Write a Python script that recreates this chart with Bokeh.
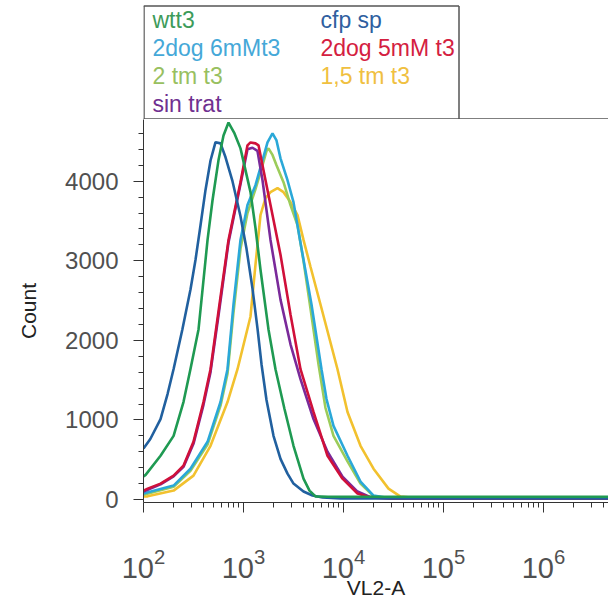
from bokeh.plotting import figure
from bokeh.models import Range1d, FixedTicker, ColumnDataSource
from bokeh.layouts import column
from bokeh.embed import file_html
from bokeh.resources import INLINE
from bokeh.core.properties import value

# ---------------- data ----------------
series_names = ["wtt3", "cfp sp", "2dog 6mMt3", "2dog 5mM t3", "2 tm t3", "1,5 tm t3", "sin trat"]
legend_colors = ["#3d9b5a", "#2f5f9f", "#45a8d8", "#d42040", "#98c060", "#f0c040", "#703090"]
line_colors = ["#1f9a52", "#21609f", "#2aa8d8", "#d0103a", "#9ccc5a", "#f2c12e", "#7a2a9a"]

y_ticks = [0, 1000, 2000, 3000, 4000]
x_ticks = [100, 1000, 10000, 100000, 1000000]

wtt3_x = [100, 105, 148, 200, 251, 295, 355, 437, 490, 562, 631, 708, 813, 933, 1175, 1318, 1479, 1778, 2089, 2570, 3162, 3981, 4571, 5248, 7000, 4600000]
wtt3_y = [290, 310, 550, 800, 1225, 1640, 2137, 3262, 3760, 4262, 4575, 4737, 4600, 4412, 3862, 3412, 2887, 2137, 1637, 1137, 675, 262, 112, 40, 35, 35]

cfp_x = [100, 117, 148, 174, 200, 245, 295, 331, 372, 417, 468, 525, 589, 661, 776, 933, 1072, 1230, 1380, 1514, 1698, 1995, 2344, 2754, 3162, 3981, 4898, 6166, 9333, 4600000]
cfp_y = [640, 760, 1010, 1325, 1640, 2140, 2640, 3010, 3450, 3890, 4260, 4490, 4475, 4300, 4000, 3560, 3150, 2650, 2150, 1700, 1250, 800, 510, 325, 200, 100, 50, 25, 12, 12]

dog6_x = [100, 200, 295, 437, 589, 692, 794, 933, 1096, 1318, 1549, 1738, 1950, 2138, 2344, 2754, 3162, 3715, 4786, 6026, 6761, 7943, 10965, 14791, 19953, 26303, 40000, 4600000]
dog6_y = [75, 175, 387, 725, 1225, 1637, 2450, 3262, 3700, 3950, 4262, 4487, 4600, 4512, 4287, 4012, 3737, 3225, 2450, 1637, 1262, 925, 550, 225, 50, 25, 12, 12]

dog5_x = [100, 110, 148, 200, 251, 316, 398, 468, 575, 708, 933, 1096, 1175, 1318, 1413, 1585, 1862, 2344, 2951, 3715, 5012, 6918, 9772, 13804, 18621, 30000, 4600000]
dog5_y = [112, 137, 200, 300, 425, 725, 1225, 1637, 2450, 3262, 3987, 4450, 4487, 4475, 4450, 4137, 3700, 3075, 2325, 1637, 1100, 550, 262, 75, 25, 12, 12]

tm2_x = [100, 200, 295, 437, 589, 692, 794, 933, 1096, 1318, 1549, 1700, 1778, 1950, 2138, 2512, 2951, 3467, 3981, 4677, 5623, 6607, 7943, 10965, 14791, 19953, 26303, 40000, 4600000]
tm2_y = [60, 160, 360, 690, 1180, 1580, 2350, 3150, 3600, 3900, 4200, 4380, 4412, 4330, 4200, 3987, 3700, 3450, 3000, 2400, 1700, 1150, 800, 480, 200, 45, 20, 12, 12]

tm15_x = [100, 110, 200, 316, 468, 692, 871, 1175, 1318, 1479, 1660, 1862, 2188, 2512, 2951, 3467, 3981, 4677, 5888, 8710, 10965, 14791, 19953, 28184, 37154, 60000, 4600000]
tm15_y = [37, 40, 112, 300, 675, 1225, 1637, 2300, 2950, 3575, 3787, 3862, 3912, 3862, 3737, 3575, 3262, 2925, 2450, 1637, 1100, 675, 387, 137, 37, 12, 12]

sin_x = [100, 148, 200, 251, 316, 398, 468, 575, 708, 933, 1096, 1230, 1380, 1549, 1862, 2344, 2951, 3715, 5012, 6918, 9772, 13804, 18621, 30000, 4600000]
sin_y = [100, 190, 290, 410, 700, 1190, 1600, 2400, 3230, 3960, 4400, 4420, 4380, 4012, 3262, 2512, 1950, 1512, 1012, 600, 287, 100, 30, 12, 12]

series_x = [wtt3_x, cfp_x, dog6_x, dog5_x, tm2_x, tm15_x, sin_x]
series_y = [wtt3_y, cfp_y, dog6_y, dog5_y, tm2_y, tm15_y, sin_y]

FONT = "Liberation Sans"
W = 608
LEFT = 143

# ---------------- legend box (above the plot) ----------------
leg = figure(width=W, height=119, x_range=Range1d(LEFT, W), y_range=Range1d(119, 0),
             output_backend="svg", toolbar_location=None,
             min_border_left=LEFT, min_border_right=0, min_border_top=0, min_border_bottom=0,
             x_axis_location=None, y_axis_location=None, outline_line_color=None)
leg.grid.visible = False
leg.multi_line(xs=[[143.5, 143.5], [143, 458.5], [458.5, 458.5], [143, 608]],
               ys=[[119, 5.5], [5.5, 5.5], [5.5, 119], [118.5, 118.5]],
               line_color="#555555", line_width=1.5)
leg_src = ColumnDataSource(dict(
    x=[152 + (i % 2) * 168 for i in range(len(series_names))],
    y=[19 + (i // 2) * 28 for i in range(len(series_names))],
    text=series_names,
    color=legend_colors,
))
leg.text(x="x", y="y", text="text", text_color="color", source=leg_src,
         text_font=value(FONT), text_font_size="23px", text_baseline="middle", text_align="left")

# ---------------- main histogram plot ----------------
p = figure(width=W, height=482, x_axis_type="log",
           x_range=Range1d(100, 10 ** 6.65), y_range=Range1d(-37.5, 4775),
           output_backend="svg", toolbar_location=None,
           min_border_left=LEFT, min_border_right=0, min_border_top=0, min_border_bottom=97,
           outline_line_color=None)
p.grid.visible = False

draw_order = [5, 4, 2, 6, 3, 1, 0]
for i in draw_order:
    p.line(series_x[i], series_y[i], line_color=line_colors[i], line_width=2.6)

p.yaxis.ticker = FixedTicker(ticks=y_ticks, minor_ticks=list(range(200, 4800, 200)))
p.xaxis.ticker = FixedTicker(ticks=x_ticks,
                             minor_ticks=[m * t for t in x_ticks for m in range(2, 10)])
for ax in (p.xaxis, p.yaxis):
    ax.axis_line_color = "#333333"
    ax.major_tick_line_color = "#333333"
    ax.minor_tick_line_color = "#333333"
    ax.major_label_text_font = FONT
    ax.major_label_text_color = "#505050"
    ax.axis_label_text_font = FONT
    ax.axis_label_text_font_style = "normal"
    ax.axis_label_text_color = "#222222"
    ax.axis_label_text_font_size = "21px"
    ax.major_tick_in = 0
    ax.minor_tick_in = 0
    ax.minor_tick_out = 5

p.yaxis.axis_label = "Count"
p.yaxis.major_label_text_font_size = "24px"
p.yaxis.major_tick_out = 10
p.yaxis.major_label_standoff = 15
p.yaxis.axis_label_standoff = 22

p.xaxis.axis_label = "VL2-A"
p.xaxis.major_label_text_font_size = "29px"
p.xaxis.major_tick_out = 10
p.xaxis.major_label_standoff = 35
p.xaxis.axis_label_standoff = -5

layout = column(leg, p)
open("out.html", "w").write(file_html(layout, INLINE))
